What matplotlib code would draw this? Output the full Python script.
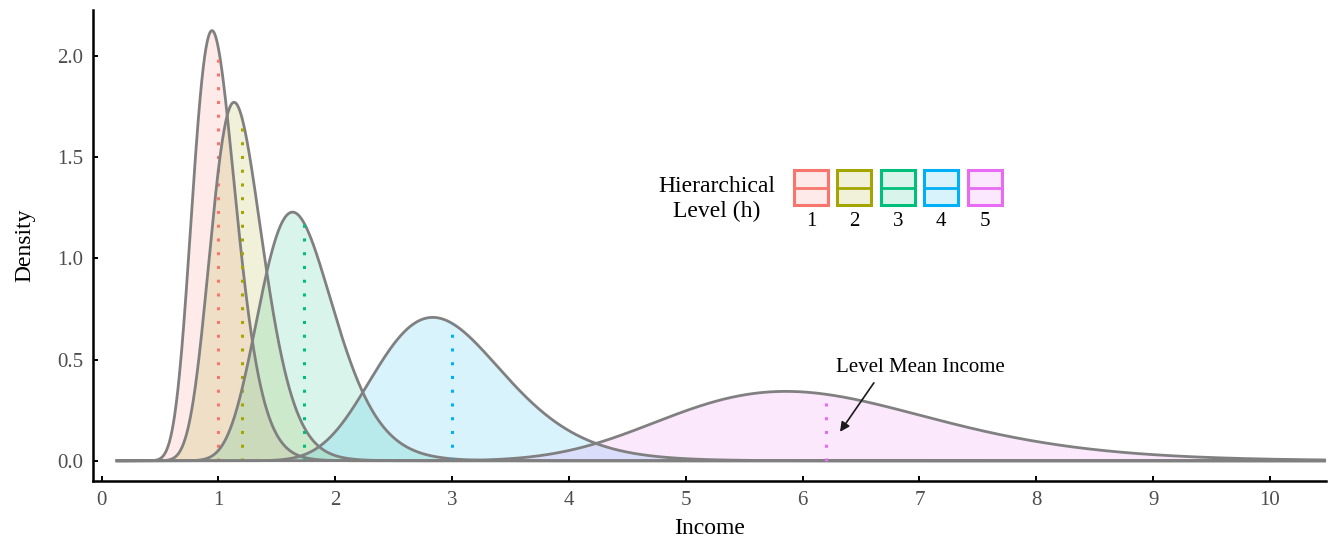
import numpy as np
import matplotlib
matplotlib.use("Agg")
from matplotlib import pyplot as plt
from matplotlib.patches import Rectangle
from matplotlib.lines import Line2D

# level mean incomes and shared log-scale spread (lognormal densities)
levels = ["1", "2", "3", "4", "5"]
level_means = [1.0, 1.2, 1.73, 3.0, 6.2]
log_sd = 0.195
colors = ["#F8766D", "#A3A500", "#00BF7D", "#00B0F6", "#E76BF3"]
x_ticks = [0, 1, 2, 3, 4, 5, 6, 7, 8, 9, 10]
y_ticks = [0.0, 0.5, 1.0, 1.5, 2.0]


def lognorm_pdf(x, mean, sd):
    mu = np.log(mean) - sd ** 2 / 2
    return np.exp(-(np.log(x) - mu) ** 2 / (2 * sd ** 2)) / (x * sd * np.sqrt(2 * np.pi))


plt.rcParams['font.family'] = ['Liberation Serif', 'DejaVu Serif']

fig = plt.figure(figsize=(13.3, 5.41), dpi=100)
ax = fig.add_axes([93 / 1330, 1 - 481 / 541, 1233 / 1330, 471 / 541])

xs = np.linspace(0.12, 10.7, 3000)
for m, c in zip(level_means, colors):
    d = lognorm_pdf(xs, m, log_sd)
    ax.fill_between(xs, 0, d, color=c, alpha=0.15, lw=0)
    ax.plot(xs, d, color="#808080", lw=2.0, solid_capstyle="butt")
    top = lognorm_pdf(np.array([m]), m, log_sd)[0]
    ax.plot([m, m], [0, top], color=c, lw=2.2, dashes=(1, 3.5))

ax.set_xlim(-0.074, 10.48)
ax.set_ylim(-0.1, 2.227)
ax.set_xticks(x_ticks)
ax.set_yticks(y_ticks)
ax.set_yticklabels(["%.1f" % v for v in y_ticks])
ax.tick_params(direction="in", length=3.5, width=1.4, color="black",
               labelcolor="#4D4D4D", labelsize=15, pad=7)
for s in ["top", "right"]:
    ax.spines[s].set_visible(False)
for s in ["left", "bottom"]:
    ax.spines[s].set_linewidth(1.8)
ax.set_xlabel("Income", fontsize=17, labelpad=6)
ax.set_ylabel("Density", fontsize=17, labelpad=16)

# annotation
ax.annotate("", xy=(6.32, 0.143), xytext=(6.61, 0.385),
            arrowprops=dict(arrowstyle="-|>", color="#1A1A1A", lw=1.2,
                            mutation_scale=14, shrinkA=0, shrinkB=0))
ax.text(7.01, 0.46, "Level Mean Income", fontsize=15, ha="center", va="center")

# legend drawn by hand (labels under keys)
fig.text(717 / 1330, 1 - 199 / 541, "Hierarchical\nLevel (h)", fontsize=17,
         ha="center", va="center", multialignment="center", linespacing=1.25)
key_left = [794, 837, 881, 924, 968]
for kx, c, lab in zip(key_left, colors, levels):
    fig.patches.append(Rectangle((kx / 1330, 1 - 205 / 541), 34 / 1330, 35 / 541,
                                 transform=fig.transFigure, facecolor=matplotlib.colors.to_rgba(c, 0.15),
                                 edgecolor=c, lw=2.2))
    fig.lines.append(Line2D([kx / 1330, (kx + 34) / 1330], [1 - 187.5 / 541] * 2,
                            transform=fig.transFigure, color=c, lw=2.0))
    fig.text((kx + 17) / 1330, 1 - 221 / 541, lab, fontsize=15, ha="center", va="center")

fig.savefig("out.png", dpi=100)
